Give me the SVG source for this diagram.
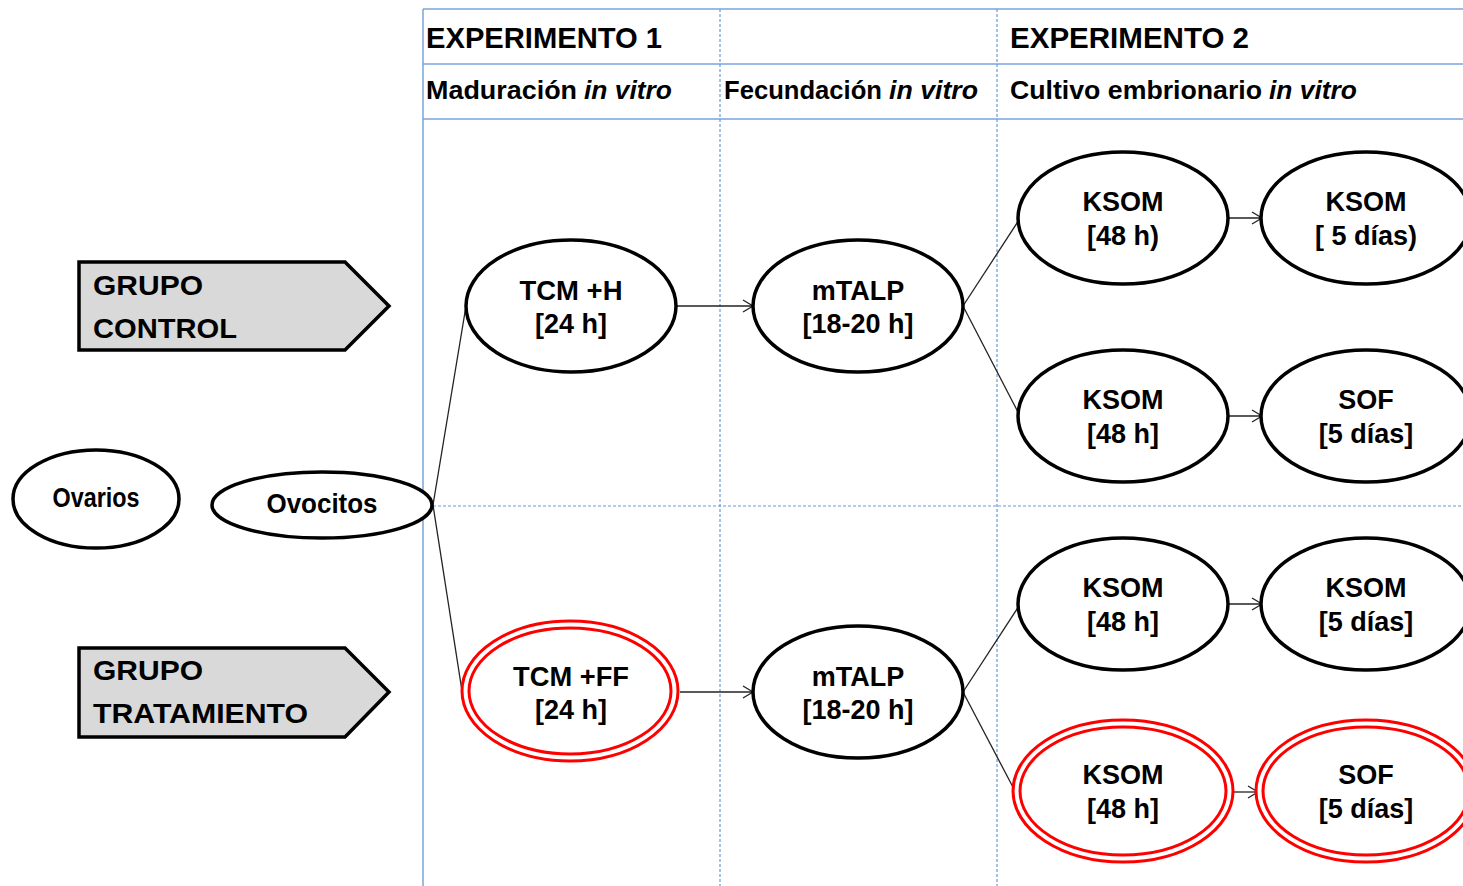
<svg xmlns="http://www.w3.org/2000/svg" width="1463" height="886" viewBox="0 0 1463 886">
<style>
.grid{stroke:#7aa3dc;stroke-width:1.5;fill:none}
.dash{stroke:#6c98d6;stroke-width:1.2;stroke-dasharray:3 2;fill:none}
.hdr{font-family:"Liberation Sans",Arial,sans-serif;font-weight:bold;fill:#000}
.lbl{font-family:"Liberation Sans",Arial,sans-serif;font-weight:bold;font-size:27px;fill:#000;text-anchor:middle}
.node{fill:#fff;stroke:#000;stroke-width:3.5}
.red{fill:#fff;stroke:#ff0000;stroke-width:3}
.tag{fill:#d9d9d9;stroke:#000;stroke-width:3.5}
.con{stroke:#222;stroke-width:1.3;fill:none}
</style>
<defs>
<marker id="ah" markerUnits="userSpaceOnUse" markerWidth="14" markerHeight="14" refX="11" refY="7" orient="auto">
<path d="M1,1 L11,7 L1,13" fill="none" stroke="#222" stroke-width="1.3"/>
</marker>
</defs>
<rect width="1463" height="886" fill="#fff"/>
<g id="table">
<line class="grid" x1="423" y1="9" x2="423" y2="886"/>
<line class="grid" x1="423" y1="9" x2="1463" y2="9"/>
<line class="grid" x1="423" y1="64" x2="1463" y2="64"/>
<line class="grid" x1="423" y1="119" x2="1463" y2="119"/>
<line class="dash" x1="720" y1="9" x2="720" y2="886"/>
<line class="dash" x1="997" y1="9" x2="997" y2="886"/>
<line class="dash" x1="423" y1="506" x2="1463" y2="506"/>
<text class="hdr" x="426" y="48" font-size="30" textLength="236" lengthAdjust="spacingAndGlyphs">EXPERIMENTO 1</text>
<text class="hdr" x="1010" y="48" font-size="30" textLength="239" lengthAdjust="spacingAndGlyphs">EXPERIMENTO 2</text>
<text class="hdr" x="426" y="99" font-size="25" textLength="151" lengthAdjust="spacingAndGlyphs">Maduración</text>
<text class="hdr" x="584" y="99" font-size="25" font-style="italic" textLength="88" lengthAdjust="spacingAndGlyphs">in vitro</text>
<text class="hdr" x="724" y="99" font-size="25" textLength="158" lengthAdjust="spacingAndGlyphs">Fecundación</text>
<text class="hdr" x="889" y="99" font-size="25" font-style="italic" textLength="89" lengthAdjust="spacingAndGlyphs">in vitro</text>
<text class="hdr" x="1010" y="99" font-size="25" textLength="252" lengthAdjust="spacingAndGlyphs">Cultivo embrionario</text>
<text class="hdr" x="1269" y="99" font-size="25" font-style="italic" textLength="88" lengthAdjust="spacingAndGlyphs">in vitro</text>
</g>
<g id="connectors">
<line class="con" x1="433" y1="505" x2="466" y2="306"/>
<line class="con" x1="433" y1="505" x2="462" y2="691"/>
<line class="con" x1="676" y1="306" x2="753" y2="306" marker-end="url(#ah)"/>
<line class="con" x1="680" y1="692" x2="753" y2="692" marker-end="url(#ah)"/>
<line class="con" x1="963" y1="306" x2="1019" y2="220"/>
<line class="con" x1="963" y1="306" x2="1019" y2="414"/>
<line class="con" x1="963" y1="692" x2="1019" y2="606"/>
<line class="con" x1="963" y1="692" x2="1015" y2="791"/>
<line class="con" x1="1228" y1="218" x2="1262" y2="218" marker-end="url(#ah)"/>
<line class="con" x1="1228" y1="416" x2="1262" y2="416" marker-end="url(#ah)"/>
<line class="con" x1="1228" y1="604" x2="1262" y2="604" marker-end="url(#ah)"/>
<line class="con" x1="1233" y1="792" x2="1258" y2="792" marker-end="url(#ah)"/>
</g>
<g id="grupo-control">
<path class="tag" d="M79,262 H345 L389,306 L345,350 H79 Z"/>
<text class="hdr" x="93" y="295" font-size="28" textLength="110" lengthAdjust="spacingAndGlyphs">GRUPO</text>
<text class="hdr" x="93" y="338" font-size="28" textLength="144" lengthAdjust="spacingAndGlyphs">CONTROL</text>
</g>
<g id="grupo-tratamiento">
<path class="tag" d="M79,648 H345 L389,692 L345,737 H79 Z"/>
<text class="hdr" x="93" y="680" font-size="28" textLength="110" lengthAdjust="spacingAndGlyphs">GRUPO</text>
<text class="hdr" x="93" y="723" font-size="28" textLength="215" lengthAdjust="spacingAndGlyphs">TRATAMIENTO</text>
</g>
<g id="ovarios">
<ellipse class="node" cx="96" cy="499" rx="83" ry="49"/>
<text class="lbl" x="96" y="507" font-size="20" textLength="87" lengthAdjust="spacingAndGlyphs">Ovarios</text>
</g>
<g id="ovocitos">
<ellipse class="node" cx="322" cy="505" rx="110" ry="33"/>
<text class="lbl" x="322" y="513" font-size="24" textLength="111" lengthAdjust="spacingAndGlyphs">Ovocitos</text>
</g>
<g id="tcm-h">
<ellipse class="node" cx="571" cy="306" rx="105" ry="66"/>
<text class="lbl" x="571" y="300" textLength="103" lengthAdjust="spacingAndGlyphs">TCM +H</text>
<text class="lbl" x="571" y="333">[24 h]</text>
</g>
<g id="mtalp-1">
<ellipse class="node" cx="858" cy="306" rx="105" ry="66"/>
<text class="lbl" x="858" y="300">mTALP</text>
<text class="lbl" x="858" y="333">[18-20 h]</text>
</g>
<g id="ksom-1a">
<ellipse class="node" cx="1123" cy="218" rx="105" ry="66"/>
<text class="lbl" x="1123" y="211">KSOM</text>
<text class="lbl" x="1123" y="245">[48 h)</text>
</g>
<g id="ksom-1b">
<ellipse class="node" cx="1366" cy="218" rx="105" ry="66"/>
<text class="lbl" x="1366" y="211">KSOM</text>
<text class="lbl" x="1366" y="245">[ 5 días)</text>
</g>
<g id="ksom-2a">
<ellipse class="node" cx="1123" cy="416" rx="105" ry="66"/>
<text class="lbl" x="1123" y="409">KSOM</text>
<text class="lbl" x="1123" y="443">[48 h]</text>
</g>
<g id="sof-2b">
<ellipse class="node" cx="1366" cy="416" rx="105" ry="66"/>
<text class="lbl" x="1366" y="409">SOF</text>
<text class="lbl" x="1366" y="443">[5 días]</text>
</g>
<g id="tcm-ff">
<ellipse class="red" cx="570" cy="691" rx="108" ry="70"/>
<ellipse class="red" cx="570" cy="691" rx="101" ry="63"/>
<text class="lbl" x="571" y="686" textLength="116" lengthAdjust="spacingAndGlyphs">TCM +FF</text>
<text class="lbl" x="571" y="719">[24 h]</text>
</g>
<g id="mtalp-2">
<ellipse class="node" cx="858" cy="692" rx="105" ry="66"/>
<text class="lbl" x="858" y="686">mTALP</text>
<text class="lbl" x="858" y="719">[18-20 h]</text>
</g>
<g id="ksom-3a">
<ellipse class="node" cx="1123" cy="604" rx="105" ry="66"/>
<text class="lbl" x="1123" y="597">KSOM</text>
<text class="lbl" x="1123" y="631">[48 h]</text>
</g>
<g id="ksom-3b">
<ellipse class="node" cx="1366" cy="604" rx="105" ry="66"/>
<text class="lbl" x="1366" y="597">KSOM</text>
<text class="lbl" x="1366" y="631">[5 días]</text>
</g>
<g id="ksom-4a">
<ellipse class="red" cx="1123" cy="791" rx="110" ry="71"/>
<ellipse class="red" cx="1123" cy="791" rx="103" ry="64"/>
<text class="lbl" x="1123" y="784">KSOM</text>
<text class="lbl" x="1123" y="818">[48 h]</text>
</g>
<g id="sof-4b">
<ellipse class="red" cx="1366" cy="791" rx="110" ry="71"/>
<ellipse class="red" cx="1366" cy="791" rx="103" ry="64"/>
<text class="lbl" x="1366" y="784">SOF</text>
<text class="lbl" x="1366" y="818">[5 días]</text>
</g>
</svg>
